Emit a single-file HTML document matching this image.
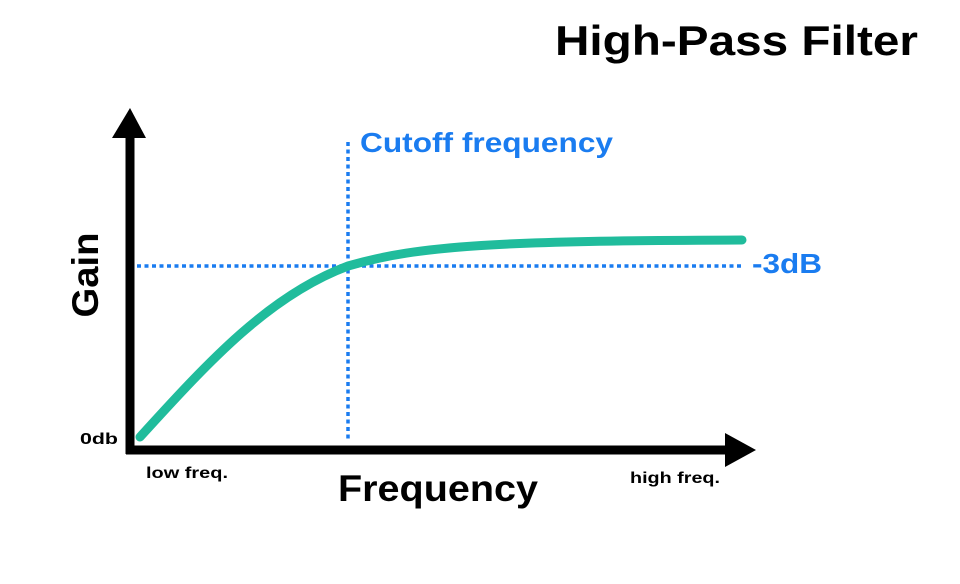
<!DOCTYPE html>
<html><head><style>
body{margin:0;background:#fff;}
svg{display:block;font-family:"Liberation Sans",Arial,sans-serif;font-weight:bold;}
</style></head><body>
<svg width="960" height="584" viewBox="0 0 960 584" xmlns="http://www.w3.org/2000/svg">
<rect width="960" height="584" fill="#fff"/>
<text x="555" y="55" font-size="42" textLength="363" lengthAdjust="spacingAndGlyphs" fill="#000">High-Pass Filter</text>
<!-- dotted lines -->
<line x1="348" y1="142" x2="348" y2="442" stroke="#1a7cf0" stroke-width="3.5" stroke-dasharray="4,3.5"/>
<line x1="137" y1="266" x2="742" y2="266" stroke="#1a7cf0" stroke-width="3.5" stroke-dasharray="4,3.5"/>
<!-- curve -->
<path d="M140,437 C210,360 270,295 348,266 C420,245 500,241 742,240" fill="none" stroke="#20bc9c" stroke-width="9" stroke-linecap="round"/>
<!-- axes -->
<line x1="130" y1="130" x2="130" y2="454" stroke="#000" stroke-width="9"/>
<line x1="126" y1="450" x2="735" y2="450" stroke="#000" stroke-width="9"/>
<polygon points="130,108 112,138 146,138" fill="#000"/>
<polygon points="756,450 725,433 725,467" fill="#000"/>
<text x="360" y="152" font-size="28" textLength="253" lengthAdjust="spacingAndGlyphs" fill="#1a7cf0">Cutoff frequency</text>
<text x="752" y="273" font-size="28" textLength="70" lengthAdjust="spacingAndGlyphs" fill="#1a7cf0">-3dB</text>
<text x="0" y="0" font-size="37" fill="#000" textLength="85" lengthAdjust="spacingAndGlyphs" text-anchor="middle" transform="translate(98,275) rotate(-90)">Gain</text>
<text x="338" y="501" font-size="37" textLength="200" lengthAdjust="spacingAndGlyphs" fill="#000">Frequency</text>
<text x="80" y="444" font-size="16" textLength="38" lengthAdjust="spacingAndGlyphs" fill="#000">0db</text>
<text x="146" y="478" font-size="16" textLength="82" lengthAdjust="spacingAndGlyphs" fill="#000">low freq.</text>
<text x="630" y="483" font-size="16" textLength="90" lengthAdjust="spacingAndGlyphs" fill="#000">high freq.</text>
</svg>
</body></html>
